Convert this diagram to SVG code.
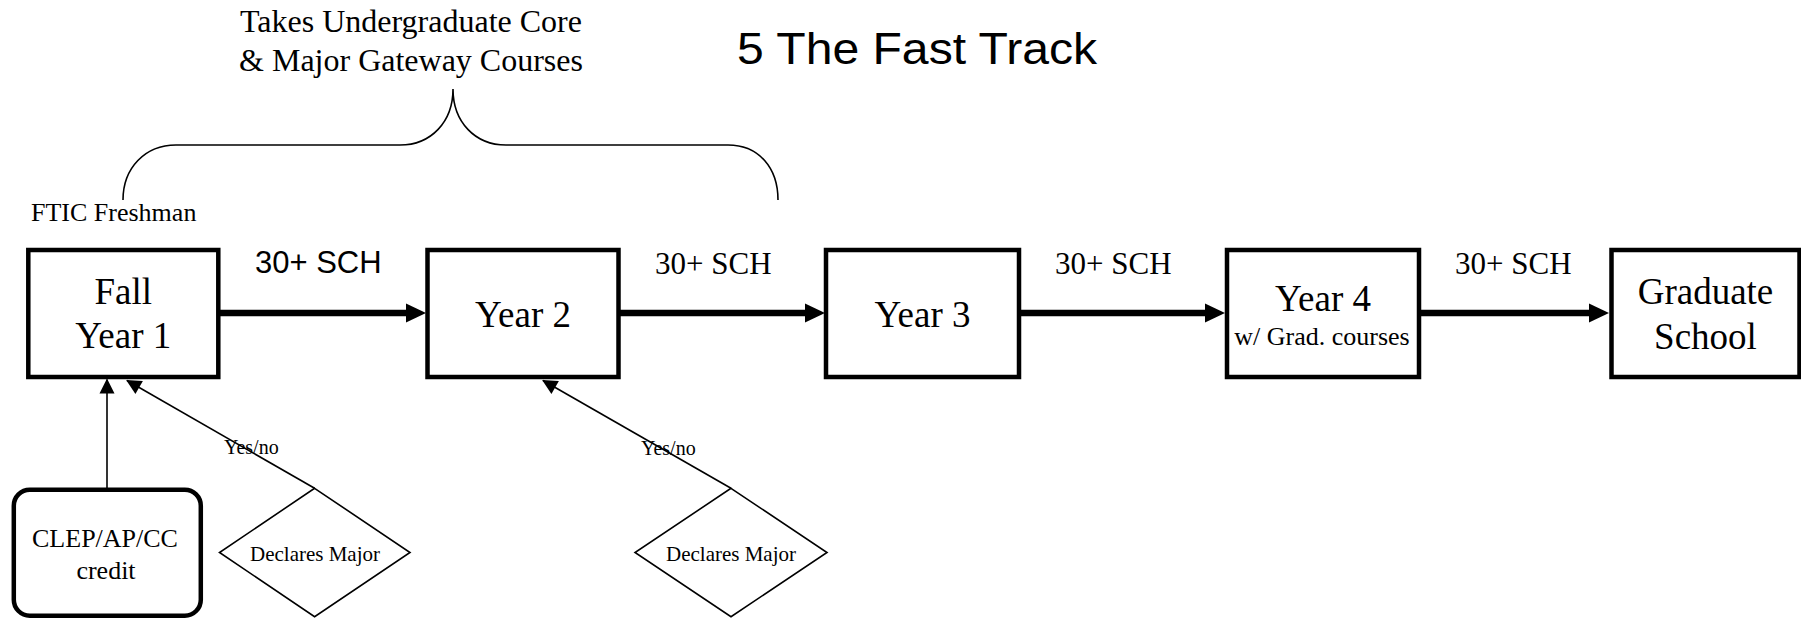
<svg xmlns="http://www.w3.org/2000/svg" width="1801" height="619" viewBox="0 0 1801 619">
<style>
.box{fill:#fff;stroke:#000;stroke-width:4.5}
.dia{fill:#fff;stroke:#000;stroke-width:1.6}
.serif{font-family:"Liberation Serif","Times New Roman",serif;fill:#000}
.sans{font-family:"Liberation Sans",Arial,sans-serif;fill:#000}
.big{font-size:37px}
.thick{stroke:#000;stroke-width:6.5;fill:none}
.thin{stroke:#000;stroke-width:1.6;fill:none}
</style>
<defs>
<marker id="bigHead" markerUnits="userSpaceOnUse" markerWidth="20" markerHeight="19" refX="0" refY="9.5" orient="auto" overflow="visible">
<path d="M0,0 L20,9.5 L0,19 z" fill="#000"/>
</marker>
<marker id="smallHead" markerUnits="userSpaceOnUse" markerWidth="15" markerHeight="15" refX="14" refY="7.5" orient="auto" overflow="visible">
<path d="M0,0 L15,7.5 L0,15 z" fill="#000"/>
</marker>
</defs>

<text class="sans" x="737" y="64" font-size="45" textLength="360" lengthAdjust="spacingAndGlyphs">5 The Fast Track</text>

<g id="brace-label">
<text class="serif" font-size="32" text-anchor="middle" x="411" y="32">Takes Undergraduate Core</text>
<text class="serif" font-size="32" text-anchor="middle" x="411" y="71">&amp; Major Gateway Courses</text>
<path class="thin" d="M123,200 C123,168 145,145 176,145 L400,145 C431,145 453,122 453,89 C453,122 475,145 506,145 L728,145 C759,145 778,168 778,200"/>
</g>

<text class="serif" font-size="26" x="31" y="221">FTIC Freshman</text>

<g id="connectors">
<line class="thick" x1="220" y1="313" x2="406" y2="313" marker-end="url(#bigHead)"/>
<line class="thick" x1="620" y1="313" x2="805" y2="313" marker-end="url(#bigHead)"/>
<line class="thick" x1="1021" y1="313" x2="1205" y2="313" marker-end="url(#bigHead)"/>
<line class="thick" x1="1421" y1="313" x2="1589" y2="313" marker-end="url(#bigHead)"/>
<text class="sans" font-size="31" x="255" y="273">30+ SCH</text>
<text class="serif" font-size="31" x="655" y="274">30+ SCH</text>
<text class="serif" font-size="31" x="1055" y="274">30+ SCH</text>
<text class="serif" font-size="31" x="1455" y="274">30+ SCH</text>
<line class="thin" x1="107" y1="488" x2="107" y2="379.5" marker-end="url(#smallHead)"/>
<line class="thin" x1="314.6" y1="488.3" x2="127" y2="380.5" marker-end="url(#smallHead)"/>
<line class="thin" x1="731" y1="488.3" x2="543" y2="380.5" marker-end="url(#smallHead)"/>
<text class="serif" font-size="20" x="224" y="454">Yes/no</text>
<text class="serif" font-size="20" x="641" y="455">Yes/no</text>
</g>

<g id="fall-year-1">
<rect class="box" x="28.3" y="250" width="190" height="127"/>
<text class="serif big" text-anchor="middle" x="123.3" y="304">Fall</text>
<text class="serif big" text-anchor="middle" x="123.3" y="348">Year 1</text>
</g>

<g id="year-2">
<rect class="box" x="427.5" y="250" width="191" height="127"/>
<text class="serif big" text-anchor="middle" x="523" y="327">Year 2</text>
</g>

<g id="year-3">
<rect class="box" x="826" y="250" width="193" height="127"/>
<text class="serif big" text-anchor="middle" x="922.5" y="327">Year 3</text>
</g>

<g id="year-4">
<rect class="box" x="1227" y="250" width="192" height="127"/>
<text class="serif big" text-anchor="middle" x="1323" y="311">Year 4</text>
<text class="serif" font-size="26" text-anchor="middle" x="1322" y="345">w/ Grad. courses</text>
</g>

<g id="graduate-school">
<rect class="box" x="1611.5" y="250" width="188" height="127"/>
<text class="serif big" text-anchor="middle" x="1705.5" y="304">Graduate</text>
<text class="serif big" text-anchor="middle" x="1705.5" y="349">School</text>
</g>

<g id="clep-credit">
<rect class="box" x="13.8" y="489.7" width="187" height="126" rx="16" ry="16"/>
<text class="serif" font-size="26" text-anchor="middle" x="105" y="547">CLEP/AP/CC</text>
<text class="serif" font-size="26" text-anchor="middle" x="106" y="579">credit</text>
</g>

<g id="declares-major-1">
<polygon class="dia" points="314.6,488.3 410,552.5 314.6,616.7 219.5,552.5"/>
<text class="serif" font-size="21" text-anchor="middle" x="315" y="560.5">Declares Major</text>
</g>

<g id="declares-major-2">
<polygon class="dia" points="731,488.3 827,552.5 731,616.7 635,552.5"/>
<text class="serif" font-size="21" text-anchor="middle" x="731" y="560.5">Declares Major</text>
</g>
</svg>
